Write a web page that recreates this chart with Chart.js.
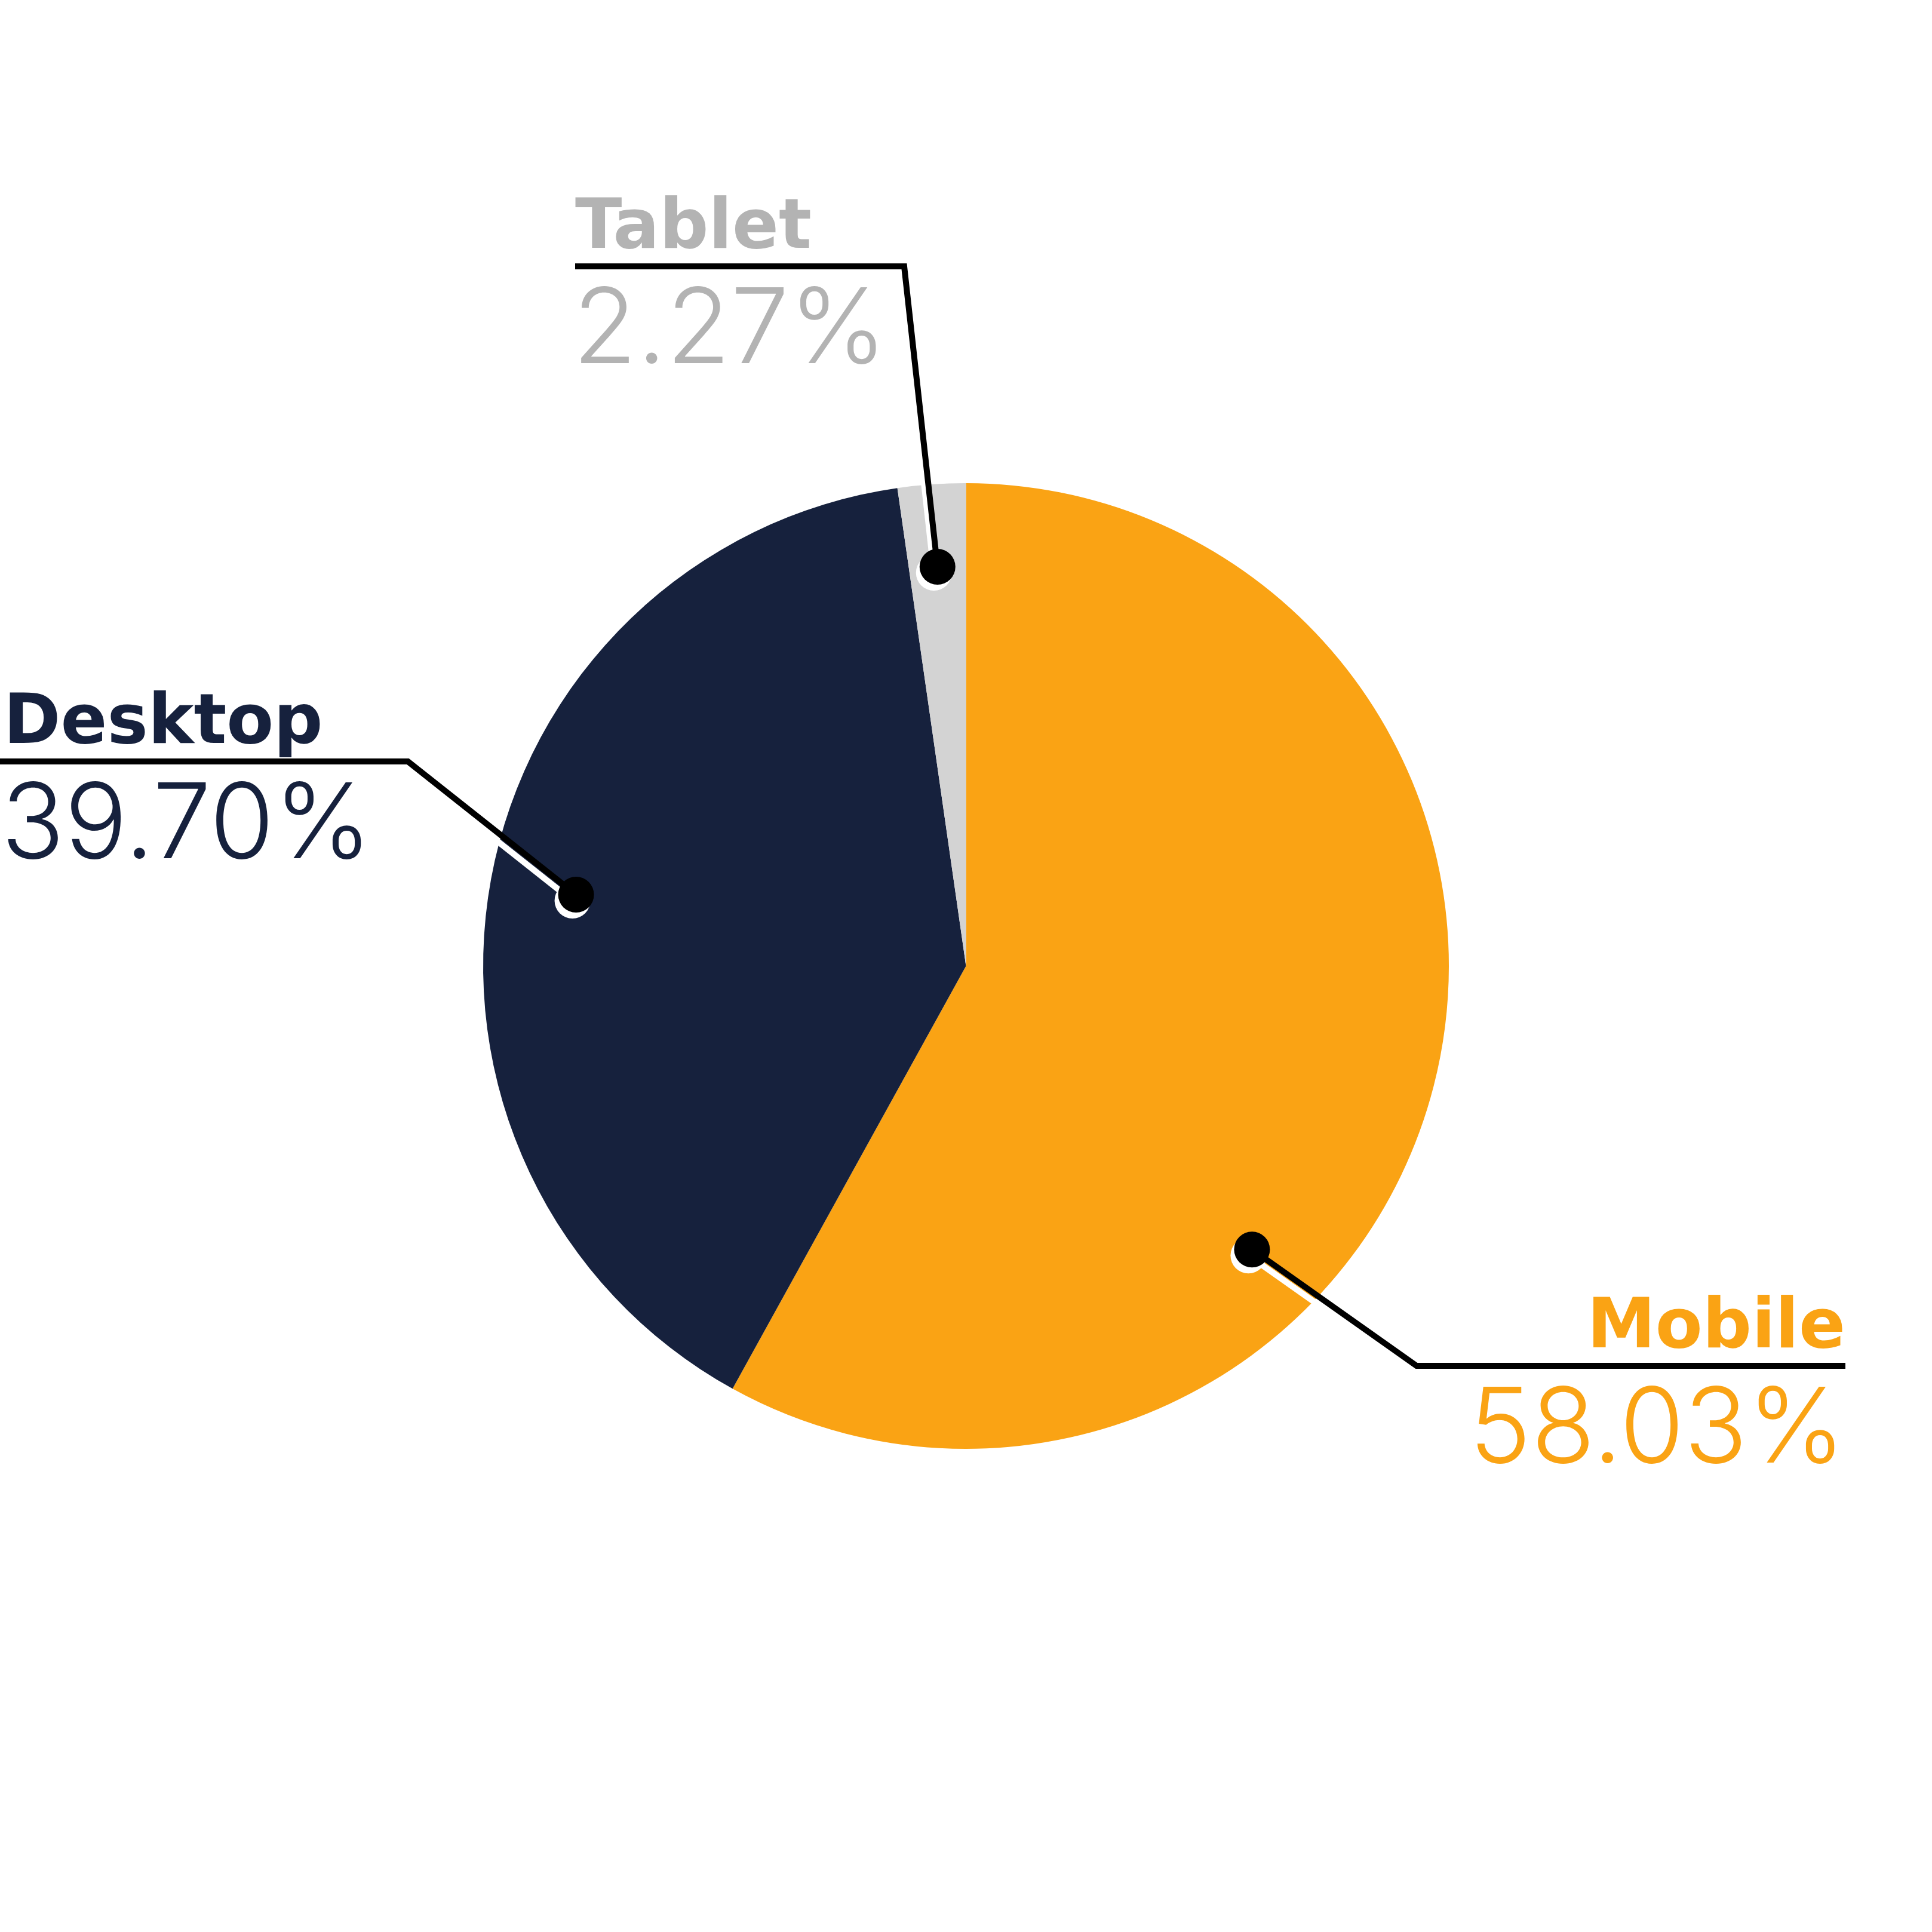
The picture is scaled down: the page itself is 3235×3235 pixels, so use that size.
<!DOCTYPE html>
<html>
<head>
<meta charset="utf-8">
<script src="https://cdn.jsdelivr.net/npm/chart.js@4"></script>
<style>
  html, body { margin: 0; padding: 0; background: #ffffff; }
  canvas { display: block; }
</style>
</head>
<body>
<canvas id="c" width="3235" height="3235"></canvas>
<script>
// ---- data ----
const categories = ['Mobile', 'Desktop', 'Tablet'];
const shares = [58.03, 39.70, 2.27];
const valueLabels = ['58.03%', '39.70%', '2.27%'];
const sliceColors = ['#faa314', '#16213d', '#d3d3d3'];
const textColors = ['#faa314', '#16213d', '#b3b3b3'];

// ---- callout layout (positions only) ----
const callouts = [
  { frac: 0.645, rFrac: 0.834, corner: [2372, 2287], end: 3090, align: 'right' },
  { frac: 0.5,   rFrac: 0.821, corner: [683, 1275],  end: 0,    align: 'left', textX: 6 },
  { frac: 0.5,   rFrac: 0.829, corner: [1514, 446],  end: 963,  align: 'left', textX: 963 }
];

const calloutPlugin = {
  id: 'callouts',
  afterDraw(chart) {
    const ctx = chart.ctx;
    const meta = chart.getDatasetMeta(0);
    const pts = meta.data.map((arc, i) => {
      const p = arc.getProps(['x', 'y', 'startAngle', 'endAngle', 'outerRadius'], true);
      const c = callouts[i];
      const a = p.startAngle + c.frac * (p.endAngle - p.startAngle);
      const r = p.outerRadius * c.rFrac;
      return [p.x + r * Math.cos(a), p.y + r * Math.sin(a)];
    });
    ctx.save();
    ctx.lineJoin = 'miter';
    ctx.lineCap = 'butt';
    const sdx = -6, sdy = 10;
    // shadows
    pts.forEach((pt, i) => {
      const c = callouts[i];
      ctx.strokeStyle = '#ffffff';
      ctx.lineWidth = 10;
      ctx.beginPath();
      ctx.moveTo(pt[0] + sdx, pt[1] + sdy);
      ctx.lineTo(c.corner[0] + sdx, c.corner[1] + sdy);
      ctx.stroke();
      ctx.fillStyle = '#ffffff';
      ctx.beginPath();
      ctx.arc(pt[0] + sdx, pt[1] + sdy, 30, 0, Math.PI * 2);
      ctx.fill();
    });
    // lines and dots
    pts.forEach((pt, i) => {
      const c = callouts[i];
      ctx.strokeStyle = '#000000';
      ctx.lineWidth = 10;
      ctx.beginPath();
      ctx.moveTo(pt[0], pt[1]);
      ctx.lineTo(c.corner[0], c.corner[1]);
      ctx.lineTo(c.end, c.corner[1]);
      ctx.stroke();
      ctx.fillStyle = '#000000';
      ctx.beginPath();
      ctx.arc(pt[0], pt[1], 30, 0, Math.PI * 2);
      ctx.fill();
    });
    // texts
    pts.forEach((pt, i) => {
      const c = callouts[i];
      const y = c.corner[1];
      ctx.fillStyle = textColors[i];
      ctx.textAlign = c.align;
      ctx.textBaseline = 'alphabetic';
      const x = c.align === 'right' ? c.end : c.textX;
      ctx.font = 'bold 115px "DejaVu Sans", sans-serif';
      ctx.fillText(categories[i], x, y - 31);
      ctx.font = '300 175px Inter, "Open Sans", sans-serif';
      ctx.fillText(valueLabels[i], x - (c.align === 'left' ? 4 : 0), y + 162);
    });
    ctx.restore();
  }
};

new Chart(document.getElementById('c'), {
  type: 'pie',
  data: {
    labels: categories,
    datasets: [{
      data: shares,
      backgroundColor: sliceColors,
      borderWidth: 0
    }]
  },
  options: {
    responsive: false,
    animation: false,
    layout: { padding: 809 },
    plugins: {
      legend: { display: false },
      tooltip: { enabled: false }
    }
  },
  plugins: [calloutPlugin]
});
</script>
</body>
</html>
